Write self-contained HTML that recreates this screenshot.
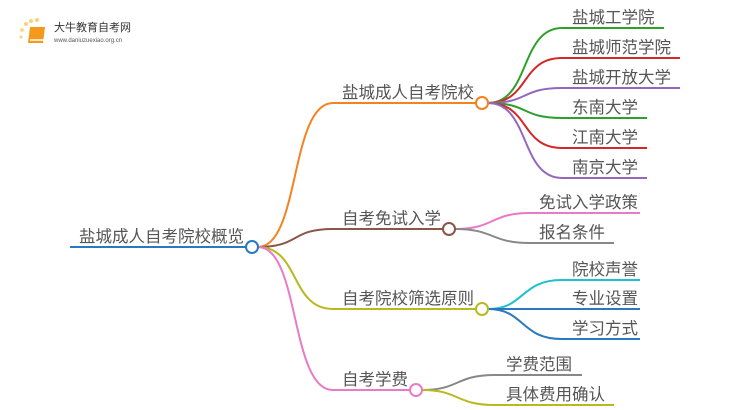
<!DOCTYPE html>
<html><head><meta charset="utf-8"><style>
html,body{margin:0;padding:0;background:#fff;width:750px;height:410px;overflow:hidden}
svg{display:block}
text{font-family:"Liberation Sans","Noto Sans CJK SC",sans-serif;fill:#555;font-size:16.5px}
</style></head><body>
<svg width="750" height="410" viewBox="0 0 750 410">
<g>
<circle cx="26" cy="24" r="2" fill="#fbd27a"/><circle cx="31" cy="21" r="2" fill="#fbd27a"/><circle cx="37" cy="20" r="2" fill="#fbd27a"/><circle cx="22" cy="30" r="1.8" fill="#fbd27a"/><circle cx="21" cy="37" r="1.5" fill="#fbd27a"/>
<path d="M30 27 L45 27 L43 43 L28 43 Z" fill="#f39a1a"/>
<path d="M30 40 L44 40" stroke="#fff" stroke-width="1.5"/>
<text x="54" y="31" style="font-size:11px;fill:#333">大牛教育自考网</text>
<text x="54" y="42" style="font-size:6px;fill:#555">www.daniuzuexiao.org.cn</text>
</g>
<g fill="none" stroke-width="2">
<path d="M70 247 H246" stroke="#2a78c0"/>
<path d="M258 247 C300 247 290 103 333 103 H476" stroke="#f58220"/>
<path d="M258 247 C300 247 290 229 333 229 H443" stroke="#8b5548"/>
<path d="M258 247 C300 247 290 309 333 309 H476" stroke="#b8b820"/>
<path d="M258 247 C300 247 290 390 333 390 H410" stroke="#e87ac8"/>
<path d="M488 103 C530 103 520 28 562 28 H664" stroke="#2ca02c"/>
<path d="M488 103 C530 103 520 58 562 58 H680" stroke="#d62728"/>
<path d="M488 103 C530 103 520 88 562 88 H680" stroke="#9467bd"/>
<path d="M488 103 C530 103 520 118 562 118 H647" stroke="#2ca02c"/>
<path d="M488 103 C530 103 520 148 562 148 H647" stroke="#d62728"/>
<path d="M488 103 C530 103 520 178 562 178 H647" stroke="#9467bd"/>
<path d="M455 229 C495 229 490 213 530 213 H640" stroke="#e87ac8"/>
<path d="M455 229 C495 229 490 243 530 243 H614" stroke="#888"/>
<path d="M488 309 C525 309 520 280 562 280 H640" stroke="#1fc0d0"/>
<path d="M488 309 H640" stroke="#2a78c0"/>
<path d="M488 309 C525 309 520 339 562 339 H640" stroke="#2a78c0"/>
<path d="M422 390 C460 390 455 375 495 375 H582" stroke="#888"/>
<path d="M422 390 C460 390 455 405 495 405 H614" stroke="#b8b820"/>
</g>
<g fill="#fff" stroke-width="2">
<circle cx="252" cy="247" r="6" stroke="#2a78c0"/>
<circle cx="482" cy="103" r="6" stroke="#f58220"/>
<circle cx="449" cy="229" r="6" stroke="#8b5548"/>
<circle cx="482" cy="309" r="6" stroke="#b8b820"/>
<circle cx="416" cy="390" r="6" stroke="#e87ac8"/>
</g>
<text x="79" y="242">盐城成人自考院校概览</text>
<text x="342" y="98">盐城成人自考院校</text>
<text x="342" y="224">自考免试入学</text>
<text x="342" y="304">自考院校筛选原则</text>
<text x="342" y="385">自考学费</text>
<text x="572" y="23">盐城工学院</text>
<text x="572" y="53">盐城师范学院</text>
<text x="572" y="83">盐城开放大学</text>
<text x="572" y="113">东南大学</text>
<text x="572" y="143">江南大学</text>
<text x="572" y="173">南京大学</text>
<text x="539" y="208">免试入学政策</text>
<text x="539" y="238">报名条件</text>
<text x="572" y="275">院校声誉</text>
<text x="572" y="304">专业设置</text>
<text x="572" y="334">学习方式</text>
<text x="506" y="370">学费范围</text>
<text x="506" y="400">具体费用确认</text>
</svg>
</body></html>
